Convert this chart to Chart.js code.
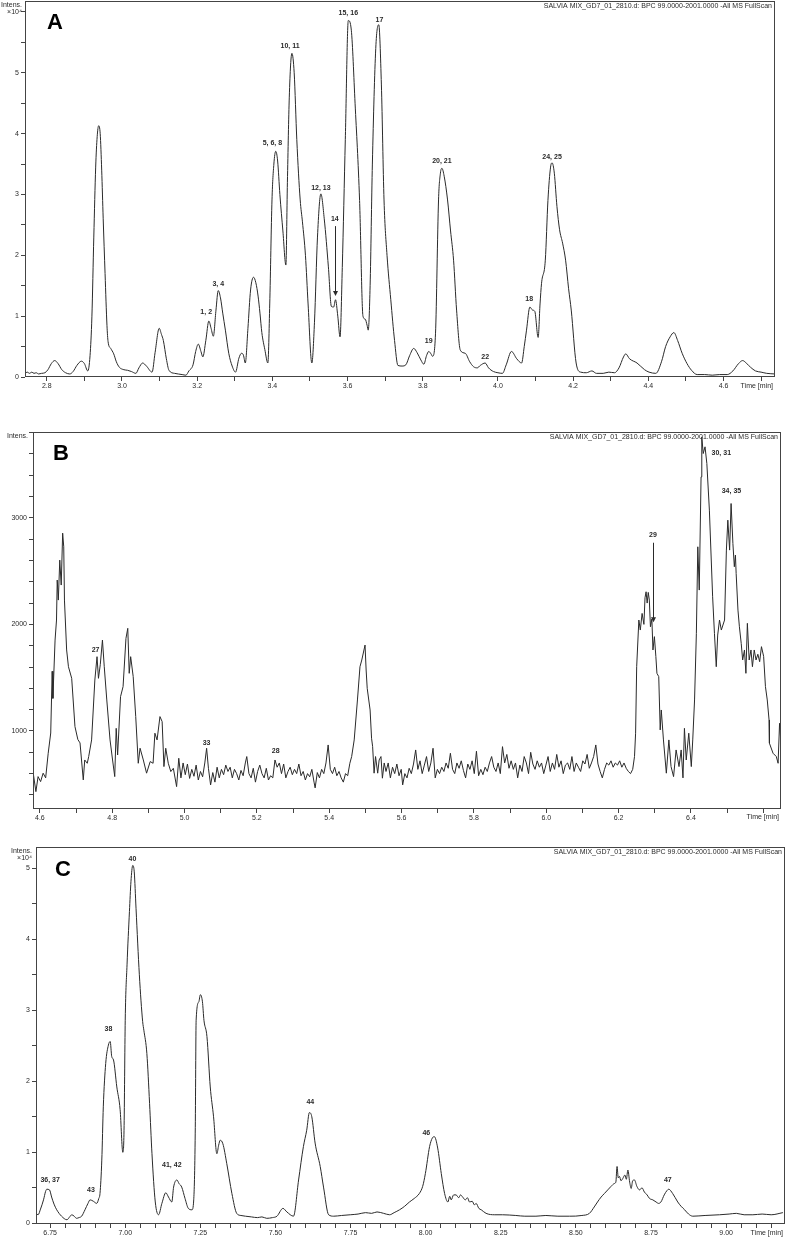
<!DOCTYPE html>
<html>
<head>
<meta charset="utf-8">
<script src="https://cdn.jsdelivr.net/npm/chart.js@4.4.0/dist/chart.umd.min.js"></script>
<style>
  html, body { margin: 0; padding: 0; background: #fff; }
  body { width: 786px; height: 1237px; position: relative; overflow: hidden; }
  canvas { position: absolute; left: 0; }
</style>
</head>
<body>
<canvas id="chartA" width="786" height="400" style="top:0px"></canvas>
<canvas id="chartB" width="786" height="406" style="top:420px"></canvas>
<canvas id="chartC" width="786" height="402" style="top:835px"></canvas>
<script>
const fileTitle = "SALVIA MIX_GD7_01_2810.d: BPC 99.0000-2001.0000 -All MS FullScan";

// panel A: time [min], intensity x10^4
const traceA = [
  [2.742,0.06],[2.748,0.08],[2.754,0.06],[2.760,0.08],[2.766,0.06],[2.772,0.07],[2.778,0.05],[2.786,0.06],
  [2.795,0.07],[2.803,0.12],[2.812,0.22],[2.821,0.27],[2.830,0.22],[2.840,0.12],[2.850,0.07],[2.861,0.05],
  [2.870,0.09],[2.880,0.19],[2.892,0.26],[2.900,0.22],[2.909,0.10],[2.915,0.35],[2.920,1.0],[2.925,2.3],
  [2.930,3.45],[2.934,3.95],[2.938,4.13],[2.942,4.0],[2.946,3.4],[2.950,2.6],[2.955,1.7],[2.960,0.85],
  [2.963,0.58],[2.970,0.47],[2.978,0.38],[2.985,0.25],[2.993,0.16],[3.005,0.12],[3.015,0.11],[3.025,0.09],
  [3.037,0.06],[3.045,0.15],[3.055,0.23],[3.065,0.18],[3.080,0.08],[3.088,0.4],[3.099,0.80],[3.105,0.70],
  [3.110,0.6],[3.118,0.3],[3.125,0.11],[3.140,0.06],[3.160,0.04],[3.170,0.03],[3.178,0.1],[3.189,0.2],
  [3.196,0.42],[3.203,0.54],[3.210,0.42],[3.215,0.33],[3.223,0.6],[3.231,0.92],[3.237,0.8],[3.243,0.67],
  [3.250,1.1],[3.256,1.42],[3.262,1.3],[3.268,1.05],[3.275,0.77],[3.284,0.39],[3.293,0.18],[3.302,0.08],
  [3.311,0.31],[3.318,0.39],[3.323,0.36],[3.328,0.23],[3.335,0.8],[3.342,1.43],[3.350,1.64],[3.356,1.55],
  [3.362,1.33],[3.367,1.05],[3.372,0.73],[3.380,0.45],[3.388,0.23],[3.393,1.2],[3.399,2.91],[3.404,3.5],
  [3.409,3.71],[3.414,3.55],[3.420,3.0],[3.428,2.4],[3.436,1.84],[3.440,3.2],[3.445,4.6],[3.452,5.32],
  [3.458,5.0],[3.465,3.9],[3.474,2.91],[3.480,2.55],[3.488,2.0],[3.495,1.2],[3.505,0.23],[3.512,0.9],
  [3.520,2.3],[3.529,3.01],[3.538,2.6],[3.549,1.81],[3.557,1.16],[3.563,1.15],[3.568,1.27],[3.574,1.0],
  [3.580,0.66],[3.586,1.8],[3.594,3.9],[3.602,5.86],[3.610,5.7],[3.620,4.5],[3.632,2.9],[3.641,1.0],
  [3.647,0.95],[3.652,0.85],[3.655,0.77],[3.660,1.5],[3.666,3.5],[3.675,5.4],[3.683,5.79],[3.690,4.8],
  [3.697,2.91],[3.705,2.0],[3.715,1.27],[3.725,0.6],[3.734,0.19],[3.745,0.18],[3.755,0.2],[3.765,0.35],
  [3.776,0.47],[3.785,0.4],[3.795,0.28],[3.803,0.21],[3.810,0.35],[3.816,0.42],[3.822,0.38],[3.826,0.34],
  [3.834,0.72],[3.842,2.91],[3.847,3.35],[3.851,3.43],[3.857,3.3],[3.866,2.91],[3.874,2.4],[3.882,1.92],
  [3.890,1.1],[3.900,0.44],[3.913,0.39],[3.925,0.25],[3.935,0.17],[3.945,0.15],[3.953,0.19],[3.966,0.23],
  [3.975,0.15],[3.988,0.09],[4.000,0.07],[4.012,0.06],[4.022,0.2],[4.036,0.42],[4.050,0.3],[4.063,0.23],
  [4.070,0.5],[4.076,0.77],[4.085,1.15],[4.092,1.1],[4.098,1.08],[4.107,0.65],[4.112,1.2],[4.116,1.54],
  [4.126,1.92],[4.133,2.9],[4.140,3.45],[4.144,3.52],[4.150,3.35],[4.157,2.8],[4.164,2.42],[4.172,2.2],
  [4.180,1.92],[4.188,1.45],[4.195,1.1],[4.208,0.23],[4.220,0.08],[4.235,0.07],[4.250,0.1],[4.262,0.06],
  [4.280,0.06],[4.295,0.08],[4.310,0.07],[4.322,0.15],[4.334,0.33],[4.340,0.38],[4.350,0.3],[4.370,0.23],
  [4.390,0.12],[4.402,0.08],[4.420,0.06],[4.435,0.25],[4.446,0.5],[4.458,0.66],[4.468,0.73],[4.478,0.6],
  [4.490,0.39],[4.503,0.22],[4.515,0.11],[4.530,0.04],[4.550,0.04],[4.570,0.03],[4.590,0.04],[4.610,0.04],
  [4.625,0.1],[4.640,0.22],[4.651,0.27],[4.662,0.22],[4.672,0.16],[4.685,0.1],[4.700,0.08],[4.715,0.06],
  [4.737,0.05]
];
const peakNamesA = ["1, 2", "3, 4", "5, 6, 8", "10, 11", "12, 13", "14", "15, 16", "17", "19", "20, 21", "22", "18", "24, 25"];
const peakTimesA = [3.224, 3.256, 3.400, 3.447, 3.529, 3.566, 3.602, 3.685, 3.816, 3.851, 3.966, 4.083, 4.144];
const peakIntA   = [1.06, 1.53, 3.85, 5.44, 3.11, 2.60, 5.98, 5.87, 0.59, 3.55, 0.33, 1.28, 3.61];
const arrowTimesA = [3.567];
const arrowFromA  = [2.48];
const arrowToA    = [1.33];

// panel B: time [min], intensity
const traceB = [
  [4.581,619],[4.589,431],[4.595,572],[4.602,525],[4.609,604],[4.616,560],[4.623,791],[4.630,981],
  [4.634,1560],[4.636,1306],[4.642,1853],[4.646,2041],[4.648,2416],[4.651,2228],[4.655,2603],[4.659,2369],
  [4.663,2856],[4.666,2728],[4.668,2228],[4.674,1760],[4.679,1603],[4.688,1494],[4.697,1041],[4.705,920],
  [4.711,888],[4.720,541],[4.724,728],[4.731,697],[4.735,760],[4.743,916],[4.752,1478],[4.758,1697],
  [4.762,1494],[4.767,1622],[4.773,1853],[4.778,1603],[4.785,1291],[4.794,916],[4.801,728],[4.807,572],
  [4.811,1025],[4.815,775],[4.823,1322],[4.830,1416],[4.838,1869],[4.843,1963],[4.847,1541],[4.851,1697],
  [4.858,1510],[4.865,1135],[4.872,697],[4.877,838],[4.886,728],[4.895,604],[4.905,713],[4.913,697],
  [4.918,979],[4.924,916],[4.932,1135],[4.938,1088],[4.943,666],[4.948,838],[4.955,697],[4.962,619],
  [4.969,650],[4.978,478],[4.984,744],[4.990,560],[4.996,700],[5.002,590],[5.008,690],[5.014,555],
  [5.020,640],[5.026,575],[5.032,680],[5.038,540],[5.044,620],[5.050,570],[5.056,700],[5.061,838],
  [5.066,650],[5.072,494],[5.078,610],[5.084,520],[5.090,660],[5.096,560],[5.102,640],[5.108,590],
  [5.114,680],[5.120,620],[5.126,660],[5.132,560],[5.138,640],[5.144,600],[5.150,540],[5.156,630],
  [5.162,580],[5.168,700],[5.172,760],[5.178,600],[5.184,560],[5.190,650],[5.196,520],[5.202,620],
  [5.208,680],[5.214,600],[5.220,560],[5.226,650],[5.232,540],[5.238,580],[5.244,560],[5.250,728],
  [5.256,660],[5.262,700],[5.268,600],[5.274,690],[5.280,560],[5.286,620],[5.292,660],[5.298,590],
  [5.304,640],[5.310,600],[5.316,690],[5.322,580],[5.328,620],[5.334,540],[5.340,600],[5.346,570],
  [5.352,640],[5.358,520],[5.361,466],[5.367,610],[5.373,560],[5.379,640],[5.385,600],[5.391,700],
  [5.397,869],[5.403,640],[5.409,600],[5.415,660],[5.421,580],[5.427,620],[5.433,560],[5.439,520],
  [5.445,600],[5.451,580],[5.457,697],[5.462,760],[5.469,916],[5.478,1291],[5.485,1603],[5.490,1666],
  [5.499,1806],[5.502,1572],[5.505,1400],[5.513,1197],[5.517,932],[5.520,853],[5.524,604],[5.528,760],
  [5.534,604],[5.538,728],[5.543,760],[5.547,557],[5.552,700],[5.557,620],[5.563,700],[5.569,560],
  [5.575,660],[5.581,600],[5.587,690],[5.593,580],[5.599,640],[5.603,494],[5.609,600],[5.615,560],
  [5.621,650],[5.627,600],[5.633,690],[5.639,822],[5.645,640],[5.651,720],[5.657,600],[5.663,680],
  [5.669,760],[5.675,620],[5.681,700],[5.687,838],[5.693,560],[5.699,640],[5.705,600],[5.711,660],
  [5.717,620],[5.723,700],[5.729,650],[5.735,791],[5.741,640],[5.747,600],[5.753,700],[5.759,650],
  [5.765,720],[5.771,630],[5.777,560],[5.783,690],[5.789,640],[5.795,720],[5.801,600],[5.807,810],
  [5.813,580],[5.819,640],[5.825,590],[5.831,660],[5.837,620],[5.843,700],[5.849,760],[5.855,660],
  [5.861,620],[5.867,700],[5.873,600],[5.879,853],[5.885,700],[5.891,780],[5.897,650],[5.903,720],
  [5.909,640],[5.915,700],[5.921,560],[5.927,680],[5.933,620],[5.939,760],[5.945,700],[5.951,600],
  [5.957,800],[5.963,690],[5.969,640],[5.975,720],[5.981,660],[5.987,700],[5.993,600],[5.999,680],
  [6.005,760],[6.011,620],[6.017,700],[6.023,640],[6.029,780],[6.035,660],[6.041,720],[6.047,600],
  [6.053,680],[6.059,700],[6.065,640],[6.071,760],[6.077,620],[6.083,700],[6.089,660],[6.095,620],
  [6.101,720],[6.107,690],[6.113,780],[6.119,650],[6.125,700],[6.131,760],[6.137,869],[6.143,690],
  [6.149,620],[6.155,560],[6.161,640],[6.167,700],[6.173,680],[6.179,720],[6.185,660],[6.191,700],
  [6.197,680],[6.203,720],[6.209,660],[6.215,700],[6.221,650],[6.227,620],[6.233,600],[6.239,640],
  [6.244,760],[6.247,979],[6.250,1603],[6.256,2041],[6.260,1947],[6.265,2103],[6.270,2000],[6.273,2250],
  [6.276,2306],[6.279,2200],[6.282,2300],[6.285,2228],[6.288,1978],[6.292,2050],[6.295,1760],[6.299,1885],
  [6.303,1700],[6.306,1541],[6.311,1510],[6.315,1010],[6.318,1197],[6.324,916],[6.332,604],[6.339,916],
  [6.345,666],[6.352,572],[6.359,822],[6.367,666],[6.373,822],[6.378,560],[6.382,1025],[6.387,728],
  [6.394,979],[6.401,666],[6.405,916],[6.410,1291],[6.415,1916],[6.419,2728],[6.423,2322],[6.428,3384],
  [6.430,3759],[6.434,3603],[6.439,3666],[6.444,3509],[6.451,3072],[6.460,2259],[6.465,1916],[6.470,1603],
  [6.474,1900],[6.479,2041],[6.484,1947],[6.493,2041],[6.498,2697],[6.502,2978],[6.507,2697],[6.511,3134],
  [6.516,2759],[6.520,2541],[6.523,2650],[6.525,2478],[6.530,2134],[6.534,1978],[6.539,1822],[6.543,1666],
  [6.548,1760],[6.552,1541],[6.556,2010],[6.561,1666],[6.566,1760],[6.570,1603],[6.575,1760],[6.580,1666],
  [6.585,1720],[6.590,1650],[6.595,1791],[6.601,1700],[6.606,1416],[6.611,1291],[6.616,1103],[6.617,885],
  [6.627,791],[6.636,760],[6.641,697],[6.645,1072],[6.649,885]
];
const peakNamesB = ["27", "33", "28", "29", "30, 31", "34, 35"];
const peakTimesB = [4.754, 5.061, 5.252, 6.295, 6.484, 6.512];
const peakIntB   = [1760, 885, 813, 2838, 3609, 3250];
const arrowTimesB = [6.295];
const arrowFromB  = [2766];
const arrowToB    = [2020];

// panel C: time [min], intensity x10^4
const traceC = [
  [6.703,0.14],[6.710,0.12],[6.718,0.2],[6.728,0.33],[6.735,0.45],[6.739,0.48],[6.748,0.47],[6.755,0.37],
  [6.763,0.27],[6.772,0.19],[6.788,0.1],[6.806,0.05],[6.815,0.09],[6.822,0.12],[6.830,0.1],[6.838,0.07],
  [6.846,0.08],[6.855,0.1],[6.866,0.19],[6.876,0.28],[6.883,0.33],[6.894,0.31],[6.905,0.28],[6.912,0.35],
  [6.916,0.42],[6.922,0.89],[6.927,1.64],[6.935,2.25],[6.944,2.51],[6.950,2.56],[6.955,2.35],[6.961,2.3],
  [6.972,1.92],[6.983,1.6],[6.992,1.0],[6.996,1.31],[7.000,2.86],[7.006,3.64],[7.014,4.39],[7.019,4.81],
  [7.025,5.04],[7.030,4.95],[7.036,4.43],[7.047,3.5],[7.058,2.84],[7.062,2.72],[7.072,2.39],[7.081,1.69],
  [7.089,0.98],[7.100,0.3],[7.111,0.12],[7.122,0.28],[7.135,0.43],[7.144,0.37],[7.155,0.3],[7.161,0.51],
  [7.172,0.61],[7.179,0.56],[7.188,0.51],[7.199,0.35],[7.210,0.21],[7.222,0.19],[7.228,0.33],[7.233,1.27],
  [7.236,2.86],[7.245,3.12],[7.250,3.22],[7.257,3.12],[7.262,2.86],[7.272,2.63],[7.283,1.92],[7.294,1.5],
  [7.305,0.98],[7.311,1.1],[7.316,1.17],[7.325,1.12],[7.338,0.84],[7.355,0.42],[7.371,0.14],[7.385,0.11],
  [7.400,0.1],[7.420,0.09],[7.440,0.08],[7.455,0.09],[7.471,0.07],[7.490,0.08],[7.505,0.1],[7.525,0.21],
  [7.538,0.16],[7.560,0.1],[7.577,0.61],[7.593,1.08],[7.604,1.31],[7.613,1.56],[7.621,1.5],[7.632,1.13],
  [7.649,0.8],[7.660,0.51],[7.677,0.12],[7.694,0.1],[7.720,0.11],[7.749,0.12],[7.775,0.13],[7.800,0.15],
  [7.820,0.14],[7.838,0.16],[7.860,0.14],[7.880,0.12],[7.895,0.15],[7.913,0.19],[7.930,0.24],[7.946,0.3],
  [7.962,0.35],[7.979,0.42],[7.990,0.52],[7.999,0.7],[8.013,1.08],[8.022,1.2],[8.029,1.22],[8.040,1.06],
  [8.052,0.7],[8.063,0.42],[8.074,0.3],[8.080,0.38],[8.085,0.33],[8.093,0.4],[8.101,0.4],[8.110,0.36],
  [8.116,0.4],[8.123,0.37],[8.132,0.33],[8.139,0.36],[8.146,0.3],[8.155,0.31],[8.162,0.26],[8.168,0.28],
  [8.177,0.21],[8.185,0.19],[8.201,0.14],[8.230,0.12],[8.256,0.12],[8.300,0.11],[8.330,0.1],[8.367,0.1],
  [8.400,0.11],[8.440,0.1],[8.479,0.1],[8.520,0.11],[8.545,0.14],[8.561,0.23],[8.572,0.3],[8.584,0.37],
  [8.595,0.42],[8.606,0.47],[8.617,0.52],[8.628,0.56],[8.633,0.58],[8.637,0.8],[8.641,0.64],[8.645,0.66],
  [8.650,0.6],[8.656,0.63],[8.663,0.68],[8.668,0.62],[8.673,0.75],[8.679,0.58],[8.684,0.49],[8.689,0.6],
  [8.695,0.61],[8.703,0.52],[8.712,0.47],[8.720,0.5],[8.728,0.44],[8.737,0.4],[8.745,0.35],[8.756,0.33],
  [8.767,0.3],[8.775,0.28],[8.783,0.3],[8.794,0.4],[8.803,0.46],[8.809,0.48],[8.822,0.42],[8.839,0.3],
  [8.850,0.24],[8.862,0.19],[8.875,0.13],[8.889,0.1],[8.930,0.11],[8.978,0.12],[9.010,0.13],[9.034,0.14],
  [9.060,0.12],[9.089,0.12],[9.120,0.13],[9.150,0.12],[9.189,0.15]
];
const peakNamesC = ["36, 37", "43", "38", "40", "41, 42", "44", "46", "47"];
const peakTimesC = [6.750, 6.886, 6.944, 7.024, 7.155, 7.616, 8.002, 8.806];
const peakIntC   = [0.61, 0.47, 2.74, 5.13, 0.82, 1.71, 1.27, 0.61];

const textFont = '"Liberation Sans", Arial, sans-serif';
const inkColor = "#2a2a2a";

function zipLabels(names, times, ints) {
  return names.map((n, i) => ({ text: n, t: times[i], v: ints[i] }));
}
function zipArrows(times, from, to) {
  return times.map((t, i) => ({ t: t, from: from[i], to: to[i] }));
}

// frame, panel letter, header texts, peak labels
const chromPlugin = {
  id: "chrom",
  afterDraw(chart, args, opts) {
    const ctx = chart.ctx;
    const a = chart.chartArea;
    const xs = chart.scales.x, ys = chart.scales.y;
    ctx.save();
    ctx.strokeStyle = "#444";
    ctx.lineWidth = 1;
    ctx.strokeRect(Math.round(a.left) + 0.5, Math.round(a.top) + 0.5,
      Math.round(a.right - a.left) - 1, Math.round(a.bottom - a.top) - 1);

    ctx.fillStyle = "#000";
    ctx.font = "bold 22px " + textFont;
    ctx.textAlign = "left";
    ctx.textBaseline = "alphabetic";
    ctx.fillText(opts.letter, a.left + opts.letterDx, a.top + opts.letterDy);

    ctx.fillStyle = inkColor;
    ctx.font = "7px " + textFont;
    ctx.textBaseline = "middle";
    ctx.textAlign = "right";
    ctx.fillText("Intens.", a.left - opts.intensDx, a.top + 4);
    if (opts.exponent) ctx.fillText("\u00d710\u2074", a.left - opts.intensDx, a.top + 11.5);
    ctx.fillText(fileTitle, a.right - 3, a.top + 5.5);
    ctx.fillText("Time [min]", a.right - 2, a.bottom + opts.timeDy);

    ctx.font = "bold 7px " + textFont;
    ctx.textAlign = "center";
    opts.labels.forEach(l => {
      ctx.fillText(l.text, xs.getPixelForValue(l.t), ys.getPixelForValue(l.v));
    });
    ctx.strokeStyle = inkColor;
    opts.arrows.forEach(ar => {
      const px = Math.round(xs.getPixelForValue(ar.t)) + 0.5;
      const y0 = ys.getPixelForValue(ar.from), y1 = ys.getPixelForValue(ar.to);
      ctx.beginPath();
      ctx.moveTo(px, y0);
      ctx.lineTo(px, y1 - 3);
      ctx.stroke();
      ctx.beginPath();
      ctx.moveTo(px - 2.5, y1 - 5);
      ctx.lineTo(px + 2.5, y1 - 5);
      ctx.lineTo(px, y1);
      ctx.closePath();
      ctx.fill();
    });
    ctx.restore();
  }
};

function noPad(s) {
  s.paddingTop = 0; s.paddingBottom = 0; s.paddingLeft = 0; s.paddingRight = 0;
}

function makeChart(id, trace, cfg) {
  const ctx = document.getElementById(id).getContext("2d");
  return new Chart(ctx, {
    type: "line",
    data: {
      datasets: [{
        data: trace.map(p => ({ x: p[0], y: p[1] })),
        borderColor: inkColor,
        borderWidth: 1,
        pointRadius: 0,
        fill: false,
        cubicInterpolationMode: cfg.smooth ? "monotone" : "default",
        tension: 0
      }]
    },
    options: {
      responsive: false,
      animation: false,
      events: [],
      layout: { padding: cfg.padding },
      plugins: {
        legend: { display: false },
        tooltip: { enabled: false },
        chrom: cfg.plugin
      },
      scales: {
        x: {
          type: "linear",
          min: cfg.xMin,
          max: cfg.xMax,
          afterFit: s => { s.height = cfg.xAxisHeight; noPad(s); },
          border: { display: false },
          grid: { drawOnChartArea: false, drawTicks: true, tickLength: 4, color: "#444" },
          ticks: {
            stepSize: cfg.xStep,
            includeBounds: false,
            autoSkip: false,
            maxRotation: 0,
            padding: 1,
            color: inkColor,
            font: { family: textFont, size: 7 },
            callback: cfg.xLabel
          }
        },
        y: {
          type: "linear",
          min: cfg.yMin,
          max: cfg.yMax,
          afterFit: s => { s.width = cfg.yAxisWidth; noPad(s); },
          border: { display: false },
          grid: { drawOnChartArea: false, drawTicks: true, tickLength: 4, color: "#444" },
          ticks: {
            stepSize: cfg.yStep,
            includeBounds: false,
            autoSkip: false,
            padding: 2,
            color: inkColor,
            font: { family: textFont, size: 7 },
            callback: cfg.yLabel
          }
        }
      }
    },
    plugins: [chromPlugin]
  });
}

const isMultiple = (v, step) => Math.abs(v / step - Math.round(v / step)) < 1e-6;

makeChart("chartA", traceA, {
  smooth: true,
  padding: { left: 0, right: 11, top: 1, bottom: 0 },
  xMin: 2.742, xMax: 4.737, xStep: 0.1, xAxisHeight: 23,
  yMin: 0, yMax: 6.18, yStep: 0.5, yAxisWidth: 25,
  xLabel: v => isMultiple(v, 0.2) ? v.toFixed(1) : "",
  yLabel: v => (isMultiple(v, 1) && v < 5.5) ? String(Math.round(v)) : "",
  plugin: {
    letter: "A", letterDx: 22, letterDy: 28, intensDx: 3, exponent: true, timeDy: 9,
    labels: zipLabels(peakNamesA, peakTimesA, peakIntA),
    arrows: zipArrows(arrowTimesA, arrowFromA, arrowToA)
  }
});

makeChart("chartB", traceB, {
  smooth: false,
  padding: { left: 0, right: 5, top: 12, bottom: 0 },
  xMin: 4.581, xMax: 6.649, xStep: 0.1, xAxisHeight: 17,
  yMin: 268, yMax: 3805, yStep: 200, yAxisWidth: 33,
  xLabel: v => (isMultiple(v, 0.2) && v < 6.55) ? v.toFixed(1) : "",
  yLabel: v => isMultiple(v, 1000) ? String(Math.round(v)) : "",
  plugin: {
    letter: "B", letterDx: 20, letterDy: 28, intensDx: 5, exponent: false, timeDy: 8,
    labels: zipLabels(peakNamesB, peakTimesB, peakIntB),
    arrows: zipArrows(arrowTimesB, arrowFromB, arrowToB)
  }
});

makeChart("chartC", traceC, {
  smooth: true,
  padding: { left: 0, right: 1, top: 12, bottom: 0 },
  xMin: 6.703, xMax: 9.196, xStep: 0.05, xAxisHeight: 13,
  yMin: -0.01, yMax: 5.3, yStep: 0.5, yAxisWidth: 36,
  xLabel: v => isMultiple(v, 0.25) ? v.toFixed(2) : "",
  yLabel: v => isMultiple(v, 1) ? String(Math.round(v)) : "",
  plugin: {
    letter: "C", letterDx: 19, letterDy: 29, intensDx: 4, exponent: true, timeDy: 9,
    labels: zipLabels(peakNamesC, peakTimesC, peakIntC),
    arrows: []
  }
});
</script>
</body>
</html>
